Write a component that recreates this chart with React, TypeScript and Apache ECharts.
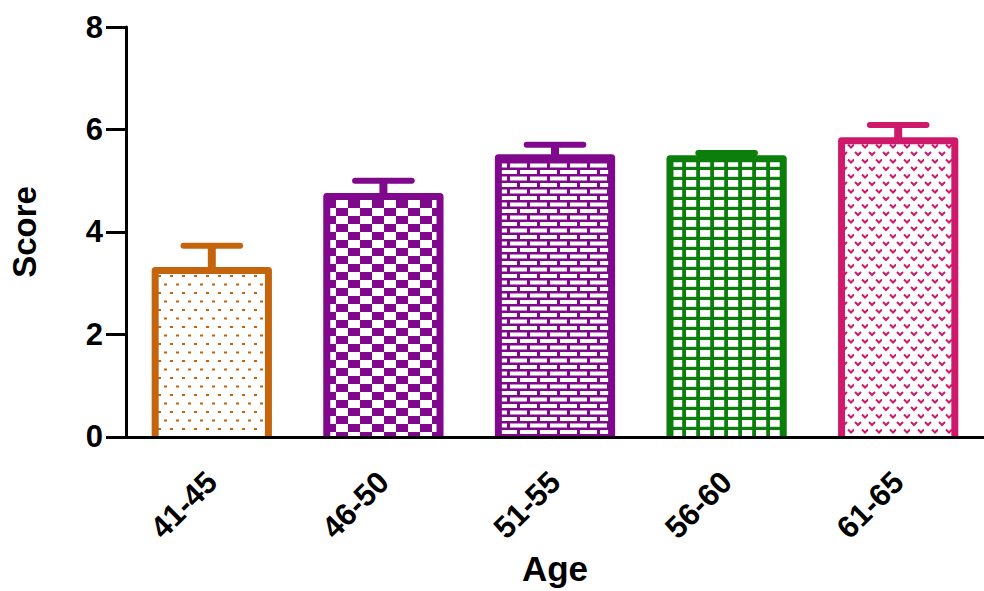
import React, { useEffect, useRef } from "react";
import * as echarts from "echarts";

// Age groups and mean scores with their standard errors
const categories = ["41-45", "46-50", "51-55", "56-60", "61-65"];
const means = [3.25, 4.69, 5.45, 5.43, 5.78];
const errors = [0.48, 0.31, 0.25, 0.11, 0.31];
const colors = ["#C4650E", "#80088C", "#80088C", "#0B7E0B", "#CF1A6C"];
const patternKinds = ["dots", "checker", "brick", "grid", "chevron"];

const BAR_RATIO = 0.66; // bar width as a share of the category band
const CAP_RATIO = 0.33; // error-bar cap width as a share of the band
const FONT = "'Liberation Sans', Arial, Helvetica, sans-serif";

type Pattern = {
  image: HTMLCanvasElement;
  repeat: string;
  imageWidth: number;
  imageHeight: number;
};

function tile(w: number, h: number, draw: (ctx: CanvasRenderingContext2D) => void): Pattern {
  const c = document.createElement("canvas");
  c.width = w;
  c.height = h;
  const ctx = c.getContext("2d") as CanvasRenderingContext2D;
  ctx.fillStyle = "#ffffff";
  ctx.fillRect(0, 0, w, h);
  draw(ctx);
  return { image: c, repeat: "repeat", imageWidth: w, imageHeight: h };
}

function makePattern(kind: string, color: string): Pattern {
  switch (kind) {
    case "dots":
      return tile(12, 17, (ctx) => {
        ctx.fillStyle = color;
        ctx.fillRect(2, 3, 3, 2);
        ctx.fillRect(8, 11.5, 3, 2);
      });
    case "checker":
      return tile(24, 16, (ctx) => {
        ctx.fillStyle = color;
        ctx.fillRect(0, 0, 12, 8);
        ctx.fillRect(12, 8, 12, 8);
      });
    case "brick":
      return tile(20, 13, (ctx) => {
        ctx.fillStyle = color;
        ctx.fillRect(0, 0, 20, 13);
        ctx.fillStyle = "#ffffff";
        ctx.fillRect(0, 1, 17, 4);
        ctx.fillRect(10, 7.5, 17, 4);
        ctx.fillRect(-10, 7.5, 17, 4);
      });
    case "grid":
      return tile(14, 10, (ctx) => {
        ctx.fillStyle = color;
        ctx.fillRect(0, 0, 14, 10);
        ctx.fillStyle = "#ffffff";
        ctx.fillRect(0, 0, 10.2, 6.8);
      });
    case "chevron":
    default:
      return tile(14, 15, (ctx) => {
        ctx.strokeStyle = color;
        ctx.lineWidth = 2;
        const v = (x: number, y: number) => {
          ctx.beginPath();
          ctx.moveTo(x - 3, y - 1.5);
          ctx.lineTo(x, y + 1.5);
          ctx.lineTo(x + 3, y - 1.5);
          ctx.stroke();
        };
        v(4, 3.5);
        v(11, 11);
      });
  }
}

export default function App() {
  const ref = useRef<HTMLDivElement>(null);

  useEffect(() => {
    if (!ref.current) return;
    const chart = echarts.init(ref.current, undefined, { renderer: "svg" });

    const barData = means.map((v, i) => ({
      value: v,
      itemStyle: { color: makePattern(patternKinds[i], colors[i]) },
    }));
    const outlineData = means.map((v, i) => [i, v, errors[i]]);

    chart.setOption({
      animation: false,
      backgroundColor: "#ffffff",
      grid: { left: 122, right: -8, top: 27, bottom: 146, containLabel: false },
      xAxis: {
        type: "category",
        data: categories,
        z: 10,
        name: "Age",
        nameLocation: "middle",
        nameGap: 109,
        nameTextStyle: { fontFamily: FONT, fontWeight: "bold", fontSize: 35, color: "#000" },
        axisLine: { lineStyle: { color: "#000", width: 3 } },
        axisTick: { alignWithLabel: true, length: 12, lineStyle: { color: "#000", width: 3 } },
        axisLabel: {
          rotate: 45,
          margin: 40,
          fontFamily: FONT,
          fontWeight: "bold",
          fontSize: 31,
          color: "#000",
        },
      },
      yAxis: {
        type: "value",
        min: 0,
        max: 8,
        interval: 2,
        name: "Score",
        nameLocation: "middle",
        nameGap: 85,
        nameTextStyle: { fontFamily: FONT, fontWeight: "bold", fontSize: 33, color: "#000" },
        axisLine: { show: true, lineStyle: { color: "#000", width: 3 } },
        axisTick: { show: true, length: 20, lineStyle: { color: "#000", width: 3 } },
        axisLabel: { margin: 23, fontFamily: FONT, fontWeight: "bold", fontSize: 31, color: "#000" },
        splitLine: { show: false },
      },
      series: [
        {
          type: "bar",
          data: barData,
          barWidth: `${BAR_RATIO * 100}%`,
          z: 2,
        },
        {
          type: "custom",
          z: 3,
          data: outlineData,
          encode: { x: 0, y: 1 },
          renderItem: (_params: any, api: any) => {
            const idx = api.value(0);
            const v = api.value(1);
            const e = api.value(2);
            const base = api.coord([idx, 0]);
            const top = api.coord([idx, v]);
            const cap = api.coord([idx, v + e]);
            const band = api.size([1, 0])[0];
            const half = (band * BAR_RATIO) / 2;
            const capHalf = (band * CAP_RATIO) / 2;
            const color = colors[idx];
            return {
              type: "group",
              children: [
                {
                  type: "line",
                  shape: { x1: top[0], y1: top[1], x2: cap[0], y2: cap[1] },
                  style: { stroke: color, lineWidth: 8 },
                },
                {
                  type: "line",
                  shape: { x1: cap[0] - capHalf, y1: cap[1], x2: cap[0] + capHalf, y2: cap[1] },
                  style: { stroke: color, lineWidth: 6, lineCap: "round" },
                },
                {
                  type: "polyline",
                  shape: {
                    points: [
                      [top[0] - half, base[1]],
                      [top[0] - half, top[1]],
                      [top[0] + half, top[1]],
                      [top[0] + half, base[1]],
                    ],
                  },
                  style: { stroke: color, lineWidth: 7, fill: "none", lineJoin: "round" },
                },
              ],
            };
          },
        },
      ],
    });

    return () => chart.dispose();
  }, []);

  return (
    <div
      ref={ref}
      style={{ position: "fixed", left: 0, top: 0, width: 984, height: 591, background: "#fff" }}
    />
  );
}
